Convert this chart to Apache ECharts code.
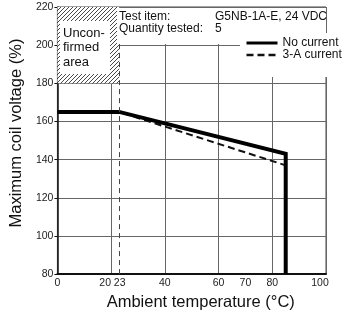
<!DOCTYPE html>
<html><head><meta charset="utf-8">
<script src="https://cdn.jsdelivr.net/npm/echarts@6/dist/echarts.min.js"></script>
<style>html,body{margin:0;padding:0;background:#fff}#c{width:344px;height:316px}</style>
</head><body><div id="c"></div>
<script>
// ---- data ----
const xTickLabels = [0, 20, 23, 40, 60, 70, 80, 100];
const yMin = 80, yMax = 220, yStep = 20;
const xMin = 0, xMax = 100, xStep = 20;
const noCurrentTemp = [0, 23, 85, 85];
const noCurrentVolt = [165, 165, 143, 80];
const threeATemp = [0, 23, 85];
const threeAVolt = [165, 165, 137];
const unconfirmedTemp = [0, 23];
const unconfirmedVolt = [180, 220];
const refTemp = 23;
const seriesNames = ['No current', '3-A current'];
const headerLines = [['Test item:', 'G5NB-1A-E, 24 VDC'], ['Quantity tested:', '5']];
const unconfirmedText = 'Uncon-\nfirmed\narea';

const zip = (a, b) => a.map((v, i) => [v, b[i]]);

// hatch pattern
const pc = document.createElement('canvas');
pc.width = 4; pc.height = 4;
const g = pc.getContext('2d');
g.fillStyle = '#fff'; g.fillRect(0, 0, 4, 4);
g.strokeStyle = '#333'; g.lineWidth = 0.9;
g.beginPath();
g.moveTo(0, 4); g.lineTo(4, 0);
g.moveTo(-1, 1); g.lineTo(1, -1);
g.moveTo(3, 5); g.lineTo(5, 3);
g.stroke();

const font = 'Liberation Sans, Arial, sans-serif';
const chart = echarts.init(document.getElementById('c'), null, {renderer: 'canvas'});
chart.setOption({
  animation: false,
  backgroundColor: '#fff',
  textStyle: {fontFamily: font},
  grid: {left: 54, right: 18, top: 7, bottom: 41, show: true, borderColor: '#444', borderWidth: 1},
  xAxis: {
    type: 'value', min: xMin, max: xMax, interval: xStep,
    name: 'Ambient temperature (°C)', nameLocation: 'middle', nameGap: 17,
    nameTextStyle: {fontSize: 16.5, color: '#111', fontFamily: font, padding: [0, 0, 0, 18]},
    axisLine: {lineStyle: {color: '#111', width: 2}},
    axisTick: {show: false},
    axisLabel: {
      customValues: xTickLabels, margin: 4, fontSize: 10.5, color: '#222', fontFamily: font,
      formatter: v => v === 20 ? '{l|20}' : (v === 23 ? '{m|23}' : (v === 100 ? '{r|100}' : String(v))),
      rich: {
        l: {padding: [0, 12, 0, 0], fontSize: 10.5, color: '#222'},
        m: {padding: [0, 0, 0, 1], fontSize: 10.5, color: '#222'},
        r: {padding: [0, 12, 0, 0], fontSize: 10.5, color: '#222'}
      }
    },
    splitLine: {show: true, lineStyle: {color: '#666', width: 1}}
  },
  yAxis: {
    type: 'value', min: yMin, max: yMax, interval: yStep,
    name: 'Maximum coil voltage (%)', nameLocation: 'middle', nameGap: 29,
    nameTextStyle: {fontSize: 16.5, color: '#111', fontFamily: font, padding: [0, 0, 0, 15]},
    axisLine: {show: true, lineStyle: {color: '#111', width: 1.5}},
    axisTick: {show: true, length: 3, lineStyle: {color: '#111'}},
    axisLabel: {margin: 4, fontSize: 10.5, color: '#222', fontFamily: font},
    splitLine: {show: true, lineStyle: {color: '#666', width: 1}}
  },
  legend: {
    orient: 'vertical', left: 240, top: 33, z: 20,
    padding: [4, 4, 16, 5], itemGap: 0, itemWidth: 31, itemHeight: 12,
    backgroundColor: '#fff',
    itemStyle: {opacity: 0},
    data: [
      {name: seriesNames[0], lineStyle: {width: 3}},
      {name: seriesNames[1], lineStyle: {width: 2.5, type: [7, 4]}}
    ],
    textStyle: {fontSize: 12, color: '#111', fontFamily: font}
  },
  series: [
    {
      name: seriesNames[1], type: 'line', symbol: 'none', z: 3,
      data: zip(threeATemp, threeAVolt),
      lineStyle: {color: '#111', width: 2, type: [7, 4]},
      itemStyle: {color: '#111'},
      markArea: {
        silent: true,
        itemStyle: {color: {image: pc, repeat: 'repeat'}, borderWidth: 0},
        data: [[{xAxis: unconfirmedTemp[0], yAxis: unconfirmedVolt[0]}, {xAxis: unconfirmedTemp[1], yAxis: unconfirmedVolt[1]}]]
      },
      markLine: {
        silent: true, symbol: 'none', label: {show: false},
        lineStyle: {color: '#444', width: 1, type: [5, 4]},
        data: [{xAxis: refTemp}]
      }
    },
    {
      name: seriesNames[0], type: 'line', symbol: 'none', z: 4,
      data: zip(noCurrentTemp, noCurrentVolt),
      lineStyle: {color: '#000', width: 4, cap: 'butt', join: 'miter'},
      itemStyle: {color: '#000'}
    }
  ],
  graphic: [
    {type: 'rect', z: 10, shape: {x: 117, y: 8, width: 209, height: 36}, style: {fill: '#fff'}},
    {type: 'text', z: 11, left: 119, top: 11, style: {text: headerLines[0][0], font: '12px ' + font, fill: '#111'}},
    {type: 'text', z: 11, left: 215, top: 11, style: {text: headerLines[0][1], font: '12px ' + font, fill: '#111'}},
    {type: 'text', z: 11, left: 119, top: 23, style: {text: headerLines[1][0], font: '12px ' + font, fill: '#111'}},
    {type: 'text', z: 11, left: 215, top: 23, style: {text: headerLines[1][1], font: '12px ' + font, fill: '#111'}},
    {type: 'rect', z: 10, shape: {x: 60, y: 21, width: 50, height: 53}, style: {fill: '#fff'}},
    {type: 'text', z: 11, left: 63, top: 26, style: {text: unconfirmedText, font: '13px ' + font, fill: '#111', lineHeight: 14.5}}
  ]
});
</script></body></html>
